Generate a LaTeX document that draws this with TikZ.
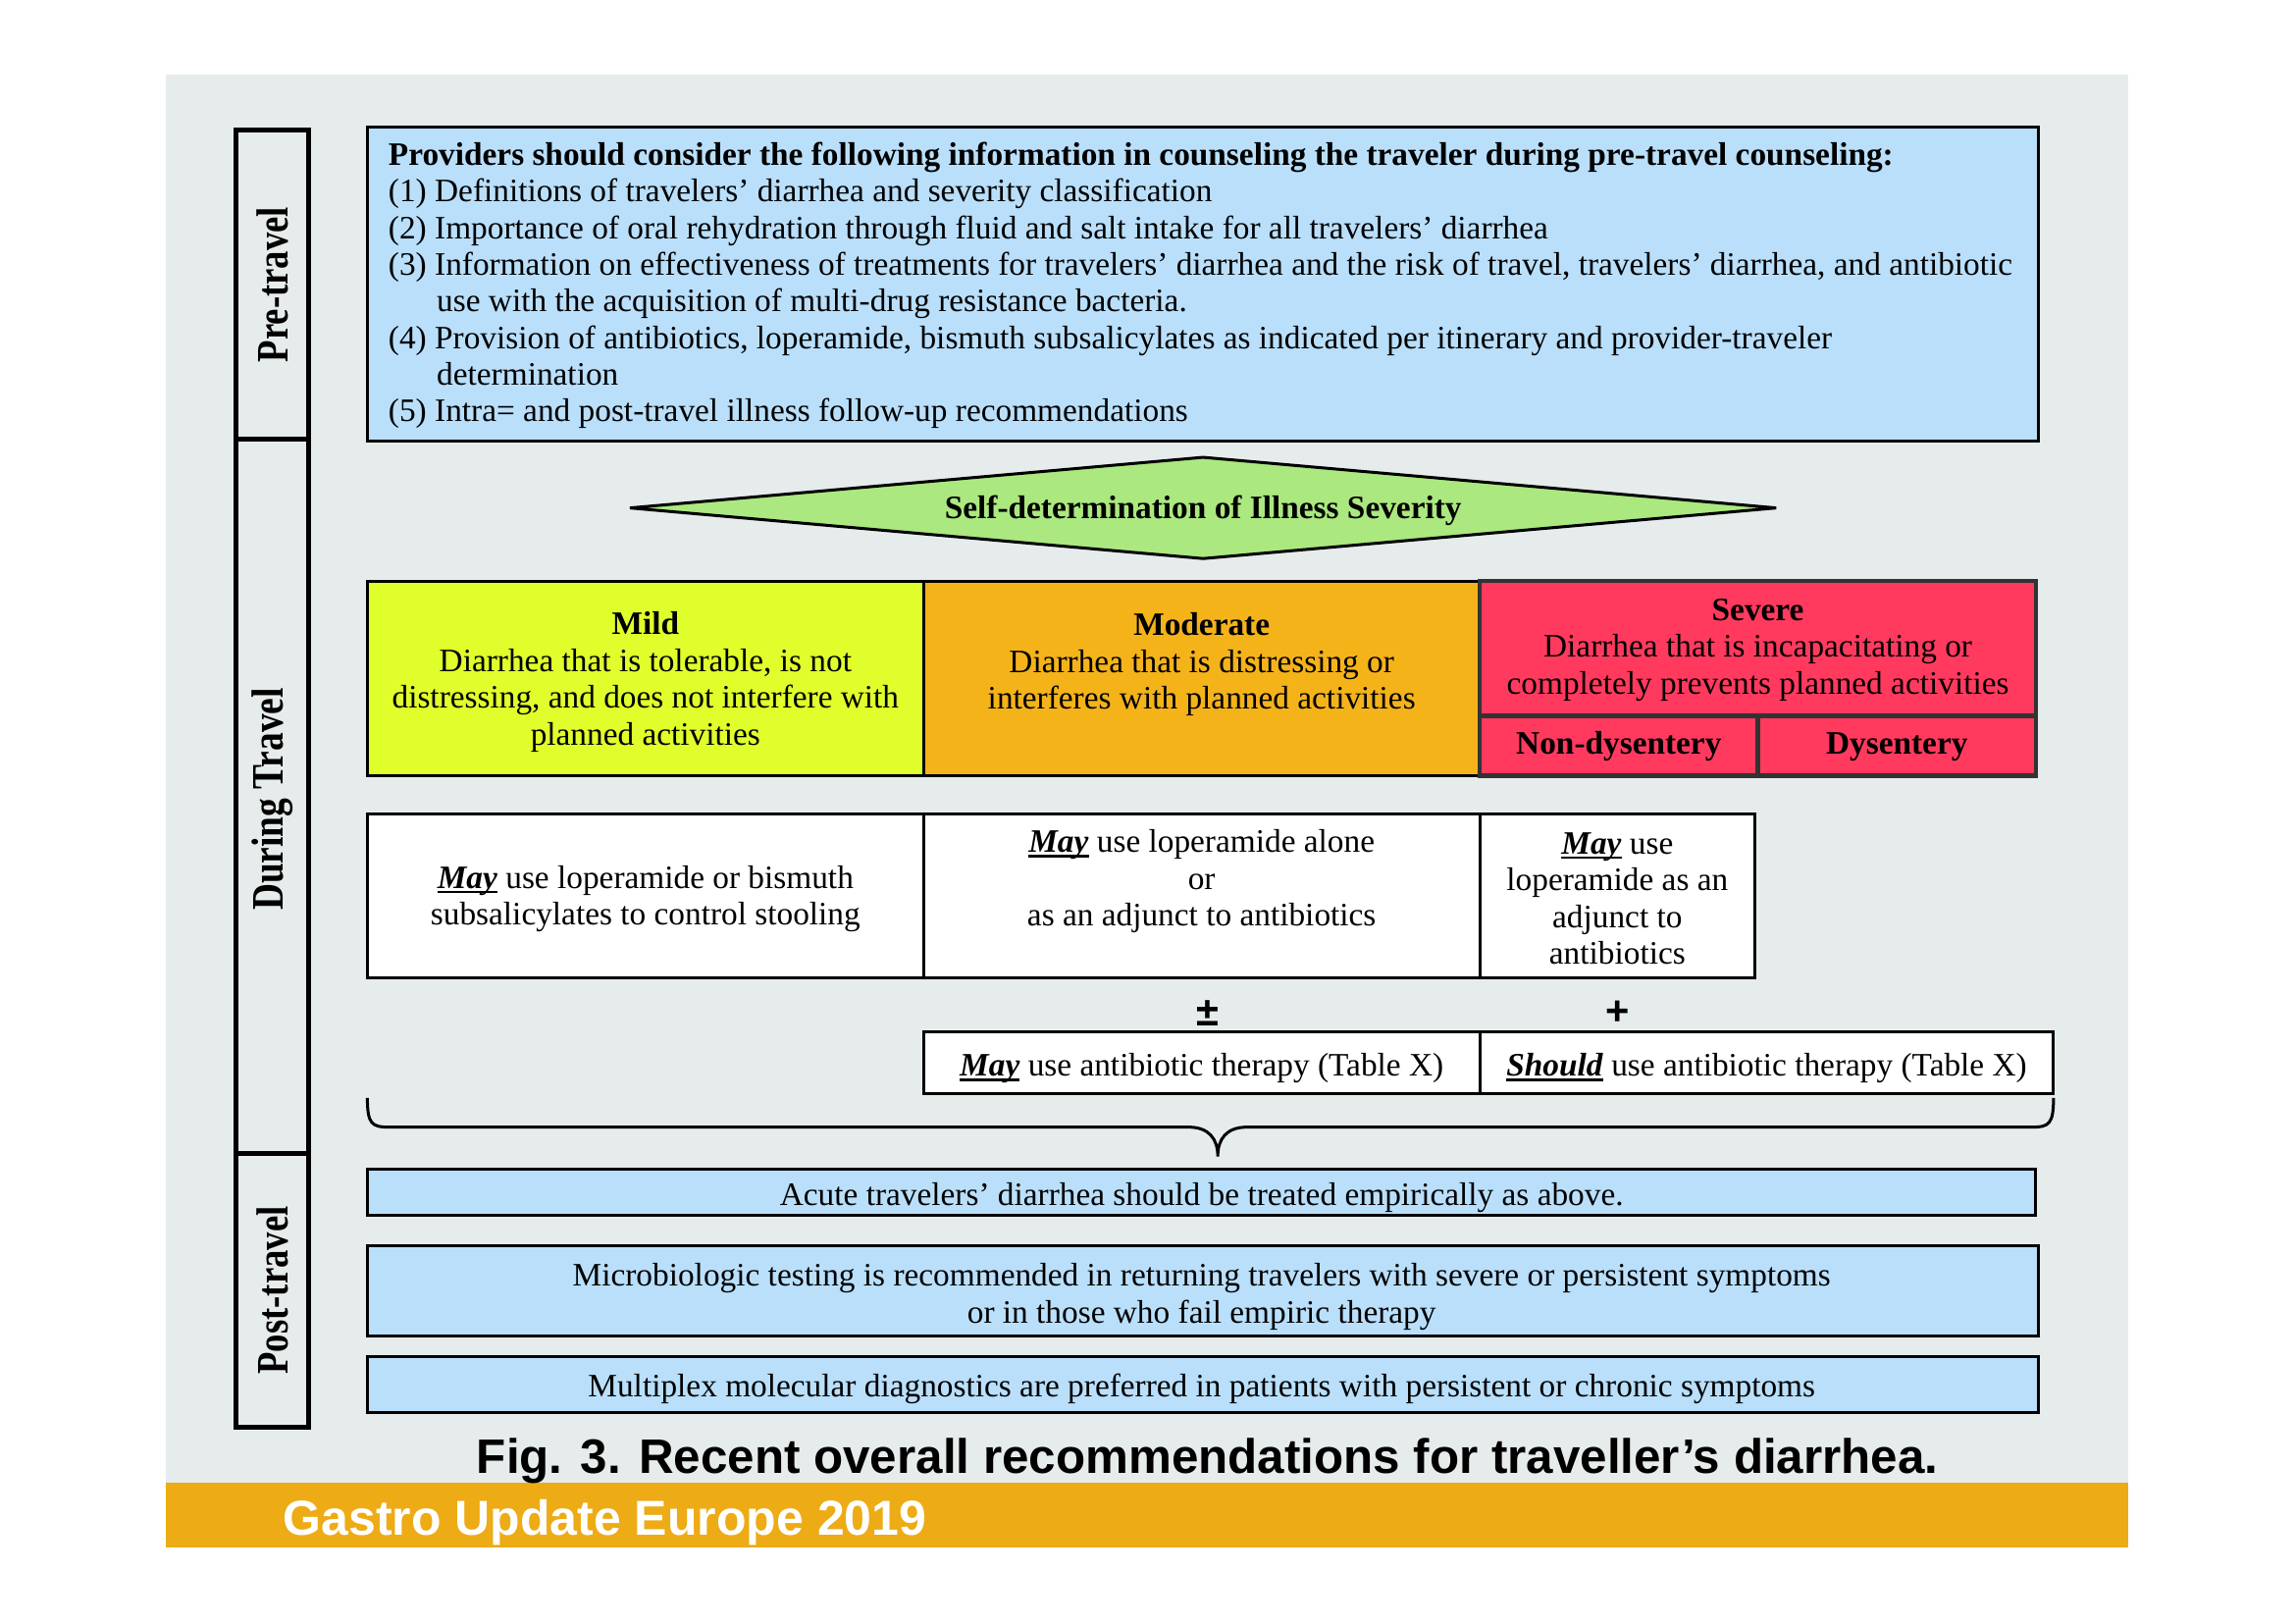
\documentclass[tikz,border=0pt]{standalone}
\usepackage{fontspec}
\setmainfont{Liberation Serif}
\newfontfamily\arialfont{Liberation Sans}
\usetikzlibrary{shapes.geometric}
\definecolor{bggray}{HTML}{E6EBEB}
\definecolor{topblue}{HTML}{B9DFFB}
\definecolor{dgreen}{HTML}{ABE87F}
\definecolor{myellow}{HTML}{E0FE2B}
\definecolor{morange}{HTML}{F5B31A}
\definecolor{sred}{HTML}{FF3A5E}
\definecolor{bandor}{HTML}{EDAB15}
\def\u{0.44754pt}
\newcommand{\myul}[1]{\setbox0\hbox{#1}\rlap{\rule[-1.5pt]{\wd0}{0.75pt}}\box0\relax}
\newcommand{\MayU}{\myul{\textbf{\textit{May}}}}
\begin{document}
\begin{tikzpicture}[x=0.44754pt,y=-0.44754pt,
  box/.style={draw=black, line width=0.9pt, inner sep=0pt, outer sep=0pt, anchor=north west},
  sidebox/.style={draw=black, line width=1.4pt, inner sep=0pt, outer sep=0pt, anchor=north west},
  sevbox/.style={draw=black!80, line width=1.3pt, inner sep=0pt, outer sep=0pt, anchor=north west, fill=sred},
  txt/.style={inner sep=0pt, font=\fontsize{10}{11.25}\selectfont, align=center},
  ltxt/.style={inner sep=0pt, font=\fontsize{10}{11.25}\selectfont, anchor=base west},
  sidetxt/.style={inner sep=0pt, font=\fontsize{11}{12}\selectfont\bfseries, rotate=90}
]
\useasboundingbox (0,0) rectangle (1568,1108.8);
\fill[white] (0,0) rectangle (1568,1108.8);
\fill[bggray] (113,51) rectangle (1454,1013);
\fill[bandor] (113,1013) rectangle (1454,1057);

% side column
\node[sidebox, minimum width=50*\u, minimum height=211*\u] (pre) at (161,89) {};
\node[sidebox, minimum width=50*\u, minimum height=488*\u] (during) at (161,300) {};
\node[sidebox, minimum width=50*\u, minimum height=187*\u] (post) at (161,788) {};
\node[sidetxt] (pret) at (pre.center) {\scalebox{1}[1.25]{Pre-travel}};
\node[sidetxt] (durt) at ([yshift=-2*\u]during.center) {\scalebox{1.02}[1.25]{During Travel}};
\node[sidetxt] (postt) at (post.center) {\scalebox{1}[1.25]{Post-travel}};

% top box
\node[box, fill=topblue, minimum width=1142*\u, minimum height=214*\u] (top) at (251,87) {};
\node[ltxt] (h0) at (265,113) {\textbf{Providers should consider the following information in counseling the traveler during pre-travel counseling:}};
\node[ltxt] (h1) at (265,138) {(1)\ Definitions of travelers’ diarrhea and severity classification};
\node[ltxt] (h2) at (265,163) {(2)\ Importance of oral rehydration through fluid and salt intake for all travelers’ diarrhea};
\node[ltxt] (h3) at (265,188) {(3)\ Information on effectiveness of treatments for travelers’ diarrhea and the risk of travel, travelers’ diarrhea, and antibiotic};
\node[ltxt] (h3b) at (298,213) {use with the acquisition of multi-drug resistance bacteria.};
\node[ltxt] (h4) at (265,238) {(4)\ Provision of antibiotics, loperamide, bismuth subsalicylates as indicated per itinerary and provider-traveler};
\node[ltxt] (h4b) at (298,263) {determination};
\node[ltxt] (h5) at (265,288) {(5)\ Intra= and post-travel illness follow-up recommendations};

% diamond
\node[diamond, draw=black, line width=0.9pt, fill=dgreen, inner sep=0pt, aspect=11.2,
      minimum width=784*\u, minimum height=70*\u] (self) at (822,347) {};
\node[txt, font=\fontsize{10}{11.25}\selectfont\bfseries] (selft) at (822,349) {Self-determination of Illness Severity};

% severity row
\node[box, fill=myellow, minimum width=380*\u, minimum height=133*\u] (mild) at (251,397) {};
\node[box, fill=morange, minimum width=380*\u, minimum height=133*\u] (mod) at (631,397) {};
\node[sevbox, minimum width=380*\u, minimum height=92*\u] (sev) at (1011,397) {};
\node[sevbox, minimum width=190*\u, minimum height=41*\u] (nondys) at (1011,489) {};
\node[sevbox, minimum width=190*\u, minimum height=41*\u] (dys) at (1201,489) {};
\node[txt] (mildt) at (441,466) {\textbf{Mild}\\Diarrhea that is tolerable, is not\\distressing, and does not interfere with\\planned activities};
\node[txt] (modt) at (821,454) {\textbf{Moderate}\\Diarrhea that is distressing or\\interferes with planned activities};
\node[txt] (sevt) at (1201,444) {\textbf{Severe}\\Diarrhea that is incapacitating or\\completely prevents planned activities};
\node[txt, font=\fontsize{10}{11.25}\selectfont\bfseries] (nondyst) at (1106,510) {Non-dysentery};
\node[txt, font=\fontsize{10}{11.25}\selectfont\bfseries] (dyst) at (1296,510) {Dysentery};

% white boxes
\node[box, fill=white, minimum width=380*\u, minimum height=112*\u] (w1) at (251,556) {};
\node[box, fill=white, minimum width=380*\u, minimum height=112*\u] (w2) at (631,556) {};
\node[box, fill=white, minimum width=188*\u, minimum height=112*\u] (w3) at (1011,556) {};
\node[txt] (w1t) at (441,614) {\MayU{} use loperamide or bismuth\\subsalicylates to control stooling};
\node[txt] (w2t) at (821,602) {\MayU{} use loperamide alone\\or\\as an adjunct to antibiotics};
\node[txt] (w3t) at (1105,614) {\MayU{} use\\loperamide as an\\adjunct to\\antibiotics};

\node[txt, font=\arialfont\bfseries\fontsize{12.5}{12.5}\selectfont] (pm) at (825,692) {±};
\node[txt, font=\arialfont\bfseries\fontsize{12.5}{12.5}\selectfont] (plus) at (1105,692) {+};

\node[box, fill=white, minimum width=380*\u, minimum height=42*\u] (a1) at (631,705) {};
\node[box, fill=white, minimum width=392*\u, minimum height=42*\u] (a2) at (1011,705) {};
\node[txt] (a1t) at (821,730) {\MayU{} use antibiotic therapy (Table X)};
\node[txt] (a2t) at (1207,730) {\myul{\textbf{\textit{Should}}} use antibiotic therapy (Table X)};

% brace
\coordinate (bl) at (251,750);
\coordinate (btip) at (832,790);
\coordinate (br) at (1403,750);
\draw[line width=0.9pt] (bl) .. controls (251,768) and (254,770) .. (266,770) -- (812,770)
  .. controls (826,770) and (832,778) .. (btip)
  .. controls (832,778) and (838,770) .. (852,770) -- (1388,770)
  .. controls (1400,770) and (1403,768) .. (br);

% post boxes
\node[box, fill=topblue, minimum width=1140*\u, minimum height=31*\u] (p1) at (251,799) {};
\node[box, fill=topblue, minimum width=1142*\u, minimum height=62*\u] (p2) at (251,851) {};
\node[box, fill=topblue, minimum width=1142*\u, minimum height=38*\u] (p3) at (251,927) {};
\node[txt] (p1t) at (821,818) {Acute travelers’ diarrhea should be treated empirically as above.};
\node[txt] (p2t) at (821,886) {Microbiologic testing is recommended in returning travelers with severe or persistent symptoms\\or in those who fail empiric therapy};
\node[txt] (p3t) at (821,949) {Multiplex molecular diagnostics are preferred in patients with persistent or chronic symptoms};

% caption and band
\node[inner sep=0pt, font=\arialfont\bfseries\fontsize{14.8}{15}\selectfont] (cap) at (825,998) {Fig. 3. Recent overall recommendations for traveller’s diarrhea.};
\node[inner sep=0pt, anchor=west, text=white, font=\arialfont\bfseries\fontsize{15}{16}\selectfont] (band) at (193,1040) {Gastro Update Europe 2019};
\end{tikzpicture}
\end{document}
